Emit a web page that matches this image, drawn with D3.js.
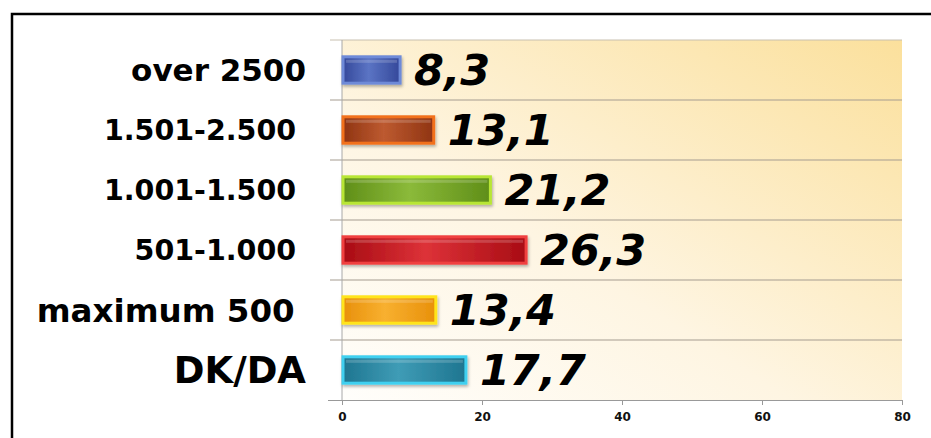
<!DOCTYPE html>
<html>
<head>
<meta charset="utf-8">
<script src="https://cdn.jsdelivr.net/npm/d3@7"></script>
<style>
  body{margin:0;background:#fff;}
  svg{display:block;}
</style>
</head>
<body>
<div class="box"></div>
<script>
const categories=['over 2500','1.501-2.500 ','1.001-1.500 ','501-1.000 ','maximum 500 ','DK/DA'];
const values=[8.3,13.1,21.2,26.3,13.4,17.7];
const valueLabels=['8,3','13,1','21,2','26,3','13,4','17,7'];
const ticks=[0,20,40,60,80];

// colours: [dark, mid, edge]
const couleurs=[
  ['#34489a','#5b74c4','#6e8ad8'],
  ['#8f3412','#bd5a30','#f2711e'],
  ['#5f8e18','#8bba3a','#b8e636'],
  ['#a80c14','#dd3238','#f04040'],
  ['#e8900a','#f8b030','#ffe41a'],
  ['#1e7590','#3f9cb6','#40d0f0']
];
const labelSizes=[31,28.5,28.5,28.5,32.5,37];

const dims={width:931,height:438};
const plot={left:342,right:902,top:40,bottom:400};

const svg=d3.select('.box')
    .append('svg')
    .attr('width',dims.width)
    .attr('height',dims.height);

const defs=svg.append('defs');
const bg=defs.append('linearGradient')
    .attr('id','bg')
    .attr('x1',0).attr('y1',1).attr('x2',1).attr('y2',0);
bg.append('stop').attr('offset','0%').attr('stop-color','#fffefb');
bg.append('stop').attr('offset','40%').attr('stop-color','#fef5e2');
bg.append('stop').attr('offset','100%').attr('stop-color','#fbe09c');

couleurs.forEach((c,i)=>{
  const g=defs.append('linearGradient')
      .attr('id','bar'+i)
      .attr('x1',0).attr('y1',0).attr('x2',1).attr('y2',0);
  g.append('stop').attr('offset','0%').attr('stop-color',c[0]);
  g.append('stop').attr('offset','45%').attr('stop-color',c[1]);
  g.append('stop').attr('offset','100%').attr('stop-color',c[0]);
});
const sh=defs.append('filter').attr('id','ombre')
    .attr('x','-10%').attr('y','-30%').attr('width','130%').attr('height','190%');
sh.append('feDropShadow')
    .attr('dx',1).attr('dy',2).attr('stdDeviation',1.5)
    .attr('flood-color','#000').attr('flood-opacity',0.3);

// frame
svg.append('rect')
    .attr('x',12).attr('y',14)
    .attr('width',dims.width).attr('height',dims.height)
    .attr('fill','#fff')
    .attr('stroke','#000')
    .attr('stroke-width',2.5);

const x=d3.scaleLinear()
    .domain([0,80])
    .range([plot.left,plot.right]);
const y=d3.scaleBand()
    .domain(categories)
    .range([plot.top,plot.bottom])
    .paddingInner(0.56)
    .paddingOuter(0.28);

svg.append('rect')
    .attr('x',plot.left).attr('y',plot.top)
    .attr('width',plot.right-plot.left)
    .attr('height',plot.bottom-plot.top)
    .attr('fill','url(#bg)');

// row lines
const rowEdges=categories.map(c=>y(c)-y.step()*y.paddingOuter());
svg.append('g')
    .selectAll('line')
    .data(rowEdges)
    .join('line')
    .attr('x1',330).attr('x2',plot.right)
    .attr('y1',d=>d).attr('y2',d=>d)
    .attr('stroke',(d,i)=>i==0?'#c8c0b0':'#a59c90')
    .attr('stroke-width',1);

svg.append('line')
    .attr('x1',plot.left).attr('x2',plot.left)
    .attr('y1',plot.top).attr('y2',plot.bottom)
    .attr('stroke','#a8a8a8');

// x axis
const axe=svg.append('g')
    .attr('transform',`translate(0,${plot.bottom})`)
    .call(d3.axisBottom(x).tickValues(ticks).tickSize(5).tickSizeOuter(0));
axe.select('.domain')
    .attr('d',`M328,0.5H${plot.right}`)
    .attr('stroke','#999');
axe.selectAll('.tick line').attr('stroke','#999');
axe.selectAll('text')
    .attr('fill','#111')
    .attr('font-family','DejaVu Sans')
    .attr('font-weight','bold')
    .attr('font-size',12)
    .attr('dy','1.05em');

// bars
const barres=svg.append('g');
barres.selectAll('rect.barre')
    .data(values)
    .join('rect')
    .attr('class','barre')
    .attr('x',x(0)+1)
    .attr('y',(d,i)=>y(categories[i]))
    .attr('width',d=>x(d)-x(0)-1)
    .attr('height',y.bandwidth())
    .attr('fill',(d,i)=>`url(#bar${i})`)
    .attr('stroke',(d,i)=>couleurs[i][2])
    .attr('stroke-width',3)
    .attr('filter','url(#ombre)');
barres.selectAll('rect.reflet')
    .data(values)
    .join('rect')
    .attr('class','reflet')
    .attr('x',x(0)+4)
    .attr('y',(d,i)=>y(categories[i])+3)
    .attr('width',d=>x(d)-x(0)-7)
    .attr('height',3)
    .attr('fill','#fff')
    .attr('opacity',0.18);

// value labels
svg.append('g')
    .selectAll('text')
    .data(values)
    .join('text')
    .attr('x',d=>x(d)+14)
    .attr('y',(d,i)=>y(categories[i])+y.bandwidth()/2)
    .attr('dy','0.36em')
    .attr('font-family','DejaVu Sans')
    .attr('font-weight','bold')
    .attr('font-style','italic')
    .attr('font-size',43)
    .attr('fill','#000')
    .text((d,i)=>valueLabels[i]);

// category labels
svg.append('g')
    .selectAll('text')
    .data(categories)
    .join('text')
    .attr('x',306)
    .attr('y',d=>y(d)+y.bandwidth()/2)
    .attr('dy','0.36em')
    .attr('text-anchor','end')
    .attr('xml:space','preserve')
    .style('white-space','pre')
    .attr('font-family','DejaVu Sans')
    .attr('font-weight','bold')
    .attr('font-size',(d,i)=>labelSizes[i])
    .attr('fill','#000')
    .text(d=>d);
</script>
</body>
</html>
